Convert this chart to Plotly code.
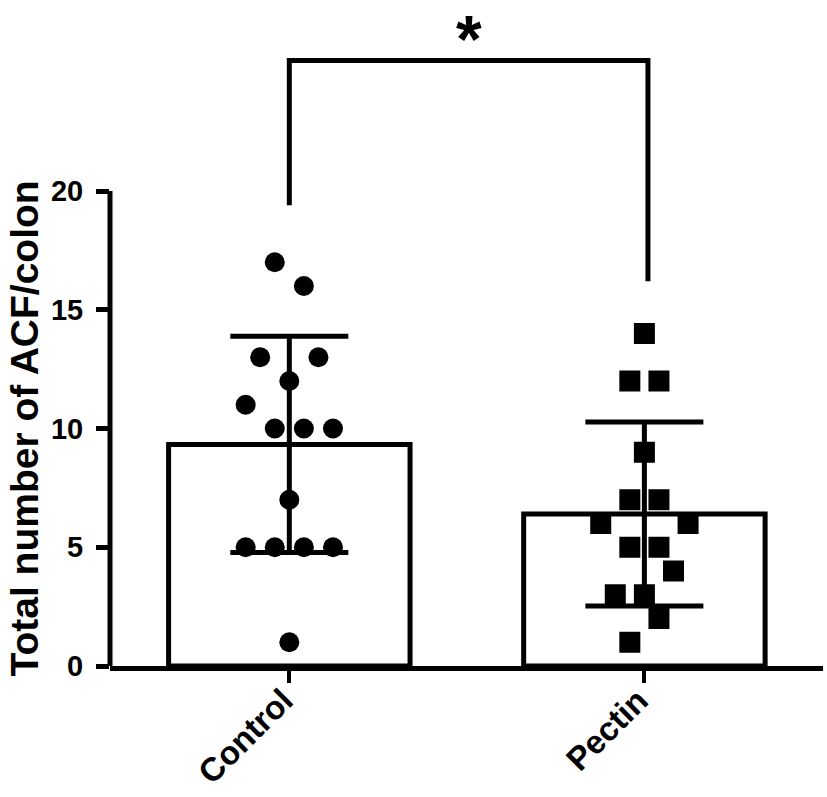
import plotly.graph_objects as go

# ---- data ----
categories = ["Control", "Pectin"]
control_values = [17, 16, 13, 13, 12, 11, 10, 10, 10, 7, 5, 5, 5, 5, 1]
control_slots = [-1, 1, -2, 2, 0, -3, -1, 1, 3, 0, -3, -1, 1, 3, 0]
pectin_values = [14, 12, 12, 9, 7, 7, 6, 6, 5, 5, 4, 3, 3, 2, 1]
pectin_slots = [0, -1, 1, 0, -1, 1, -3, 3, -1, 1, 2, -2, 0, 1, -1]
means = [9.33, 6.40]
sds = [4.55, 3.87]
y_ticks = [0, 5, 10, 15, 20]
y_title = "Total number of ACF/colon"
signif_text = "*"
bracket_levels = [19.4, 25.5, 16.2]   # left leg end, top, right leg end

FONT = "Liberation Sans, Arial, sans-serif"
slot_w = 0.041
xpos = list(range(len(categories)))

fig = go.Figure()
fig.add_trace(go.Bar(
    x=xpos, y=means, width=0.68,
    marker=dict(color="white", line=dict(color="black", width=5)),
    error_y=dict(type="data", array=sds, visible=True, color="black",
                 thickness=5, width=59),
    showlegend=False,
))
fig.add_trace(go.Scatter(
    x=[xpos[0] + s * slot_w for s in control_slots], y=control_values,
    mode="markers", marker=dict(symbol="circle", size=20, color="black"),
    showlegend=False,
))
fig.add_trace(go.Scatter(
    x=[xpos[1] + s * slot_w for s in pectin_slots], y=pectin_values,
    mode="markers", marker=dict(symbol="square", size=21, color="black"),
    showlegend=False,
))

# y axis line only from 0 to 20
fig.add_shape(type="line", xref="paper", yref="y", x0=0, x1=0,
              y0=y_ticks[0], y1=y_ticks[-1], line=dict(color="black", width=5))

# significance bracket
xl, xr = xpos[0], xpos[1] + 0.01
fig.add_shape(type="path", xref="x", yref="y",
              path=f"M {xl},{bracket_levels[0]} L {xl},{bracket_levels[1]} "
                   f"L {xr},{bracket_levels[1]} L {xr},{bracket_levels[2]}",
              line=dict(color="black", width=5))
fig.add_annotation(x=(xl + xr) / 2, xref="x", y=1, yref="paper",
                   text=signif_text, showarrow=False, yanchor="top", yshift=1,
                   font=dict(family=FONT, size=66, color="black", weight="bold"))

# y title
fig.add_annotation(x=0, xref="paper", xshift=-86, y=(y_ticks[0] + y_ticks[-1]) / 2,
                   yref="y", text=y_title, textangle=-90,
                   showarrow=False, xanchor="center", yanchor="middle",
                   font=dict(family=FONT, size=39, color="black", weight="bold"))

fig.update_layout(
    width=827, height=797, autosize=False,
    margin=dict(l=110, r=4, t=1, b=131, autoexpand=False),
    plot_bgcolor="white", paper_bgcolor="white",
    xaxis=dict(range=[-0.505, 1.503], tickvals=xpos, ticktext=categories,
               showline=True, linecolor="black", linewidth=5, automargin=False,
               ticks="outside", ticklen=12, tickwidth=4, tickcolor="black",
               tickangle=-45, showgrid=False, zeroline=False,
               ticklabelstandoff=-15, ticklabelshift=-6,
               tickfont=dict(family=FONT, size=33, color="black", weight="bold")),
    yaxis=dict(range=[0, 28], tickvals=y_ticks, showline=False, automargin=False,
               ticks="outside", ticklen=13, tickwidth=4.5, tickcolor="black",
               showgrid=False, zeroline=False, ticklabelstandoff=7,
               tickfont=dict(family=FONT, size=29, color="black", weight="bold")),
)

fig.write_html("out.html",
               config={"responsive": False, "displayModeBar": False},
               post_script="document.body.style.margin='0';document.body.style.overflow='hidden';")
